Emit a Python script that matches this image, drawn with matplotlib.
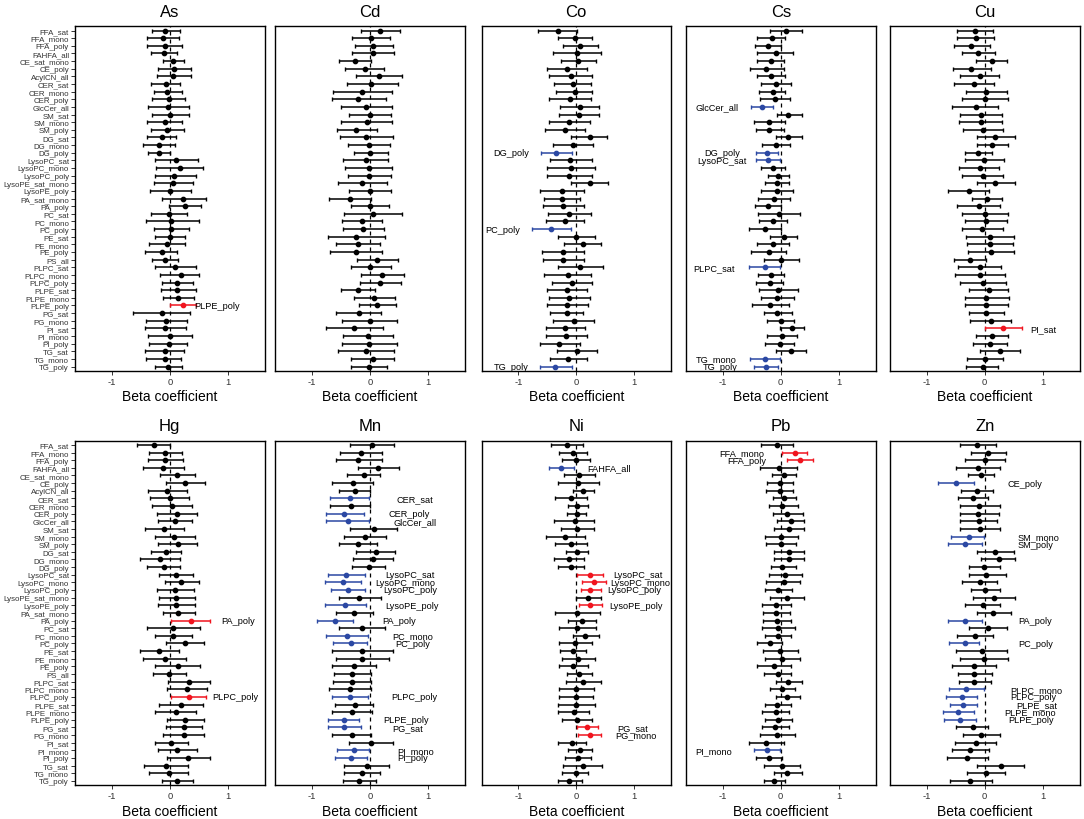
import numpy as np
import matplotlib
matplotlib.use("Agg")
import matplotlib.pyplot as plt

plt.rcParams['font.family'] = ['Liberation Sans', 'DejaVu Sans']
plt.rcParams['axes.unicode_minus'] = False

lipids = ["FFA_sat", "FFA_mono", "FFA_poly", "FAHFA_all", "CE_sat_mono", "CE_poly", "AcylCN_all",
          "CER_sat", "CER_mono", "CER_poly", "GlcCer_all", "SM_sat", "SM_mono", "SM_poly",
          "DG_sat", "DG_mono", "DG_poly", "LysoPC_sat", "LysoPC_mono", "LysoPC_poly",
          "LysoPE_sat_mono", "LysoPE_poly", "PA_sat_mono", "PA_poly", "PC_sat", "PC_mono", "PC_poly",
          "PE_sat", "PE_mono", "PE_poly", "PS_all", "PLPC_sat", "PLPC_mono", "PLPC_poly",
          "PLPE_sat", "PLPE_mono", "PLPE_poly", "PG_sat", "PG_mono", "PI_sat", "PI_mono", "PI_poly",
          "TG_sat", "TG_mono", "TG_poly"]

metals = ["As", "Cd", "Co", "Cs", "Cu", "Hg", "Mn", "Ni", "Pb", "Zn"]

As_est = [-0.075,-0.12,-0.09,-0.10,0.06,0.08,0.06,-0.07,-0.04,-0.02,-0.03,0.0,-0.09,-0.04,-0.14,-0.19,-0.19,0.11,0.17,0.08,0.06,0.01,0.23,0.26,-0.02,0.03,0.03,0.0,-0.05,-0.14,-0.09,0.09,0.19,0.12,0.13,0.14,0.23,-0.13,-0.07,-0.08,0.01,-0.02,-0.09,-0.09,-0.03]
As_lo = [-0.30,-0.39,-0.39,-0.32,-0.11,-0.20,-0.22,-0.32,-0.27,-0.31,-0.38,-0.31,-0.39,-0.33,-0.39,-0.46,-0.38,-0.25,-0.23,-0.26,-0.28,-0.34,-0.14,-0.01,-0.32,-0.41,-0.27,-0.26,-0.36,-0.42,-0.31,-0.26,-0.17,-0.14,-0.15,-0.12,0.01,-0.64,-0.41,-0.43,-0.38,-0.36,-0.42,-0.41,-0.25]
As_hi = [0.17,0.16,0.22,0.13,0.25,0.37,0.37,0.18,0.21,0.27,0.33,0.33,0.22,0.24,0.10,0.09,0.01,0.49,0.58,0.45,0.41,0.37,0.62,0.54,0.30,0.50,0.33,0.27,0.27,0.13,0.14,0.46,0.50,0.41,0.45,0.42,0.45,0.35,0.29,0.28,0.39,0.30,0.25,0.20,0.22]

Cd_est = [0.18,0.02,0.06,0.05,-0.25,-0.09,0.16,0.03,-0.13,-0.20,-0.06,0.0,-0.05,-0.23,-0.06,-0.02,0.01,-0.07,-0.02,-0.01,-0.13,0.0,-0.35,0.0,0.06,-0.14,-0.12,-0.23,-0.21,-0.23,0.13,0.01,0.21,0.18,-0.21,0.07,0.13,-0.18,0.0,-0.27,-0.03,-0.01,-0.06,0.05,-0.02]
Cd_lo = [-0.16,-0.31,-0.26,-0.31,-0.54,-0.43,-0.24,-0.40,-0.64,-0.66,-0.50,-0.36,-0.50,-0.56,-0.52,-0.37,-0.28,-0.47,-0.42,-0.38,-0.55,-0.36,-0.70,-0.32,-0.44,-0.48,-0.47,-0.72,-0.59,-0.69,-0.22,-0.33,-0.16,-0.17,-0.50,-0.28,-0.19,-0.58,-0.48,-0.76,-0.46,-0.48,-0.55,-0.32,-0.33]
Cd_hi = [0.52,0.35,0.40,0.42,0.03,0.25,0.56,0.49,0.38,0.28,0.38,0.37,0.38,0.12,0.40,0.35,0.31,0.31,0.39,0.37,0.30,0.37,0.02,0.34,0.56,0.21,0.25,0.26,0.18,0.22,0.49,0.37,0.59,0.54,0.09,0.43,0.46,0.20,0.47,0.23,0.40,0.48,0.42,0.42,0.30]

Co_est = [-0.32,-0.03,0.07,0.01,0.03,-0.16,-0.09,-0.06,-0.03,-0.11,0.06,0.05,-0.12,-0.20,0.23,-0.06,-0.35,-0.10,-0.09,-0.12,0.23,-0.25,-0.24,-0.23,-0.12,-0.19,-0.43,0.0,0.12,-0.23,-0.23,0.07,-0.15,-0.08,-0.16,-0.12,-0.16,-0.16,-0.04,-0.20,-0.18,-0.29,0.02,-0.14,-0.36]
Co_lo = [-0.66,-0.32,-0.23,-0.40,-0.27,-0.51,-0.47,-0.39,-0.35,-0.47,-0.28,-0.30,-0.47,-0.54,-0.09,-0.40,-0.61,-0.46,-0.50,-0.51,-0.09,-0.62,-0.55,-0.58,-0.49,-0.52,-0.76,-0.31,-0.21,-0.60,-0.58,-0.32,-0.55,-0.42,-0.50,-0.47,-0.50,-0.45,-0.40,-0.52,-0.52,-0.63,-0.33,-0.45,-0.62]
Co_hi = [0.02,0.27,0.38,0.43,0.34,0.19,0.28,0.26,0.27,0.26,0.39,0.40,0.23,0.15,0.54,0.29,-0.07,0.27,0.32,0.27,0.55,0.13,0.07,0.13,0.25,0.13,-0.09,0.32,0.43,0.14,0.13,0.46,0.26,0.28,0.18,0.23,0.20,0.12,0.31,0.15,0.18,0.06,0.36,0.18,-0.08]

Cs_est = [0.09,-0.16,-0.22,-0.09,-0.17,-0.25,-0.17,-0.08,-0.14,-0.10,-0.33,0.13,-0.20,-0.20,0.13,-0.09,-0.23,-0.22,-0.13,-0.04,-0.07,-0.06,-0.12,-0.22,-0.03,-0.14,-0.27,0.05,-0.13,-0.21,0.01,-0.28,-0.17,-0.19,-0.05,-0.06,-0.18,-0.06,0.0,0.20,0.02,-0.02,0.18,-0.27,-0.25]
Cs_lo = [-0.18,-0.41,-0.45,-0.41,-0.41,-0.54,-0.41,-0.34,-0.38,-0.36,-0.52,-0.07,-0.47,-0.42,-0.09,-0.33,-0.42,-0.42,-0.34,-0.22,-0.28,-0.34,-0.39,-0.44,-0.39,-0.37,-0.55,-0.18,-0.41,-0.51,-0.29,-0.55,-0.39,-0.42,-0.37,-0.35,-0.50,-0.29,-0.24,-0.01,-0.24,-0.27,-0.09,-0.54,-0.46]
Cs_hi = [0.36,0.08,0.01,0.22,0.06,0.05,0.08,0.18,0.08,0.16,-0.13,0.36,0.08,0.05,0.36,0.16,-0.05,-0.01,0.08,0.14,0.14,0.22,0.16,0.01,0.34,0.10,0.01,0.28,0.15,0.09,0.32,-0.01,0.06,0.04,0.29,0.23,0.14,0.19,0.23,0.40,0.28,0.23,0.44,-0.01,-0.05]

Cu_est = [-0.17,-0.16,-0.23,-0.11,0.12,-0.23,-0.09,-0.18,0.02,0.01,-0.16,-0.06,-0.07,-0.03,0.18,0.13,-0.11,-0.01,-0.09,-0.03,0.18,-0.28,0.04,-0.10,0.01,0.02,-0.04,0.09,0.09,0.10,-0.26,-0.09,-0.08,-0.03,0.07,0.03,0.03,0.02,0.11,0.31,0.12,0.09,0.26,0.0,-0.03]
Cu_lo = [-0.48,-0.48,-0.54,-0.39,-0.15,-0.55,-0.43,-0.53,-0.33,-0.39,-0.57,-0.42,-0.45,-0.37,-0.14,-0.14,-0.34,-0.34,-0.44,-0.39,-0.14,-0.64,-0.22,-0.48,-0.39,-0.34,-0.40,-0.32,-0.31,-0.29,-0.54,-0.46,-0.51,-0.43,-0.27,-0.35,-0.34,-0.28,-0.25,0.01,-0.16,-0.20,-0.09,-0.31,-0.32]
Cu_hi = [0.14,0.16,0.09,0.18,0.39,0.11,0.25,0.16,0.39,0.41,0.23,0.30,0.30,0.31,0.52,0.41,0.12,0.33,0.24,0.31,0.52,0.07,0.29,0.27,0.41,0.38,0.31,0.51,0.49,0.51,0.02,0.28,0.35,0.36,0.41,0.42,0.41,0.33,0.46,0.64,0.41,0.39,0.61,0.31,0.23]

Hg_est = [-0.28,-0.08,-0.08,-0.11,0.13,0.26,-0.05,0.0,0.04,0.13,0.09,-0.10,0.08,0.14,-0.06,-0.17,-0.10,0.11,0.20,0.09,0.11,0.11,0.14,0.37,0.06,0.05,0.27,-0.18,-0.08,0.14,-0.01,0.34,0.29,0.33,0.20,0.10,0.27,0.24,0.25,0.03,0.13,0.32,-0.06,-0.02,0.13]
Hg_lo = [-0.57,-0.36,-0.37,-0.47,-0.17,-0.07,-0.38,-0.34,-0.30,-0.22,-0.21,-0.43,-0.26,-0.20,-0.33,-0.52,-0.40,-0.19,-0.09,-0.22,-0.19,-0.20,-0.12,0.03,-0.39,-0.25,-0.06,-0.51,-0.46,-0.25,-0.29,-0.03,-0.05,0.02,-0.19,-0.25,-0.05,-0.06,-0.11,-0.26,-0.21,-0.05,-0.45,-0.36,-0.13]
Hg_hi = [0.01,0.21,0.23,0.24,0.44,0.61,0.29,0.34,0.39,0.48,0.39,0.24,0.43,0.48,0.20,0.18,0.18,0.41,0.50,0.42,0.44,0.44,0.43,0.69,0.52,0.39,0.60,0.16,0.28,0.53,0.28,0.70,0.64,0.63,0.57,0.46,0.60,0.55,0.60,0.31,0.47,0.69,0.31,0.31,0.40]

Mn_est = [0.04,-0.16,-0.20,0.15,-0.10,-0.29,-0.26,-0.34,-0.33,-0.44,-0.37,0.07,-0.08,-0.21,0.10,0.05,-0.02,-0.41,-0.47,-0.37,-0.18,-0.43,-0.27,-0.60,-0.13,-0.39,-0.33,-0.13,-0.13,-0.28,-0.30,-0.30,-0.34,-0.34,-0.26,-0.30,-0.45,-0.45,-0.30,0.02,-0.28,-0.33,-0.05,-0.14,-0.18]
Mn_lo = [-0.34,-0.52,-0.59,-0.21,-0.39,-0.65,-0.54,-0.68,-0.68,-0.76,-0.75,-0.35,-0.45,-0.53,-0.23,-0.29,-0.31,-0.72,-0.78,-0.67,-0.53,-0.78,-0.59,-0.91,-0.54,-0.75,-0.63,-0.66,-0.59,-0.65,-0.62,-0.64,-0.71,-0.66,-0.60,-0.66,-0.72,-0.72,-0.65,-0.36,-0.56,-0.60,-0.45,-0.45,-0.46]
Mn_hi = [0.42,0.21,0.22,0.50,0.17,0.06,0.01,-0.01,0.01,-0.10,-0.01,0.47,0.28,0.12,0.43,0.40,0.27,-0.09,-0.16,-0.09,0.20,-0.06,0.05,-0.29,0.27,-0.03,-0.04,0.40,0.33,0.11,0.02,0.03,0.02,-0.03,0.05,0.04,-0.18,-0.16,0.03,0.41,-0.01,-0.05,0.34,0.17,0.10]

Ni_est = [-0.16,-0.05,-0.01,-0.26,0.05,0.03,0.12,-0.09,0.02,0.01,-0.03,0.01,-0.19,-0.09,0.02,-0.13,-0.09,0.24,0.31,0.24,0.20,0.24,0.02,0.10,0.02,0.15,-0.02,-0.05,0.03,-0.05,0.05,0.12,-0.01,-0.01,-0.01,-0.04,0.01,0.19,0.23,-0.08,0.06,0.03,0.11,-0.01,-0.12]
Ni_lo = [-0.43,-0.29,-0.24,-0.47,-0.21,-0.31,-0.06,-0.36,-0.14,-0.16,-0.39,-0.27,-0.52,-0.36,-0.17,-0.39,-0.31,0.01,0.10,0.08,-0.01,0.05,-0.36,-0.14,-0.30,-0.06,-0.29,-0.28,-0.25,-0.30,-0.16,-0.17,-0.29,-0.30,-0.32,-0.31,-0.24,0.01,0.03,-0.31,-0.14,-0.20,-0.23,-0.24,-0.32]
Ni_hi = [0.12,0.19,0.23,-0.04,0.32,0.40,0.30,0.18,0.20,0.17,0.30,0.31,0.16,0.18,0.21,0.14,0.14,0.47,0.51,0.42,0.42,0.44,0.41,0.35,0.35,0.39,0.27,0.17,0.32,0.21,0.28,0.42,0.30,0.29,0.32,0.22,0.27,0.38,0.43,0.17,0.28,0.26,0.45,0.21,0.10]

Pb_est = [-0.07,0.24,0.33,-0.03,0.06,-0.01,-0.01,0.06,0.03,0.11,0.17,0.14,0.01,0.01,0.15,0.14,0.03,0.07,0.05,-0.05,0.10,-0.09,-0.08,-0.06,-0.05,-0.05,-0.19,-0.01,0.03,-0.12,-0.05,0.13,0.03,0.11,-0.06,-0.09,-0.05,-0.10,-0.07,-0.25,-0.24,-0.21,0.02,0.10,-0.11]
Pb_lo = [-0.35,0.02,0.10,-0.36,-0.16,-0.23,-0.25,-0.14,-0.21,-0.14,-0.06,-0.12,-0.28,-0.25,-0.11,-0.12,-0.17,-0.20,-0.25,-0.28,-0.19,-0.33,-0.30,-0.30,-0.32,-0.28,-0.41,-0.31,-0.28,-0.41,-0.29,-0.09,-0.18,-0.09,-0.28,-0.32,-0.28,-0.33,-0.36,-0.55,-0.46,-0.42,-0.29,-0.12,-0.29]
Pb_hi = [0.21,0.45,0.55,0.28,0.27,0.22,0.22,0.27,0.29,0.39,0.41,0.40,0.30,0.26,0.41,0.41,0.26,0.36,0.34,0.20,0.40,0.17,0.16,0.18,0.24,0.18,0.03,0.29,0.34,0.17,0.18,0.36,0.25,0.34,0.17,0.15,0.20,0.14,0.24,0.05,-0.01,0.02,0.33,0.36,0.08]

Zn_est = [-0.13,0.06,0.0,-0.12,-0.06,-0.49,-0.13,-0.21,-0.10,-0.12,-0.10,-0.09,-0.28,-0.34,0.17,0.24,-0.01,0.03,-0.08,0.01,0.16,-0.03,0.14,-0.34,0.05,-0.17,-0.35,-0.05,-0.02,-0.19,-0.18,-0.19,-0.32,-0.39,-0.38,-0.46,-0.43,-0.21,-0.06,-0.16,-0.26,-0.31,0.28,0.02,-0.26]
Zn_lo = [-0.43,-0.24,-0.34,-0.50,-0.29,-0.81,-0.41,-0.47,-0.43,-0.43,-0.43,-0.43,-0.58,-0.63,-0.13,-0.06,-0.28,-0.27,-0.39,-0.24,-0.20,-0.34,-0.14,-0.64,-0.28,-0.48,-0.62,-0.49,-0.42,-0.56,-0.46,-0.45,-0.62,-0.67,-0.61,-0.72,-0.70,-0.49,-0.38,-0.52,-0.57,-0.66,-0.13,-0.30,-0.60]
Zn_hi = [0.19,0.37,0.35,0.27,0.16,-0.19,0.14,0.05,0.27,0.25,0.22,0.27,-0.01,-0.05,0.50,0.53,0.27,0.37,0.22,0.27,0.52,0.27,0.45,-0.04,0.39,0.14,-0.10,0.39,0.40,0.19,0.12,0.10,-0.02,-0.13,-0.13,-0.18,-0.16,0.06,0.27,0.19,0.08,0.05,0.68,0.35,0.12]

# significant (labelled) lipid classes per metal
As_sig = ["PLPE_poly"]
Cd_sig = []
Co_sig = ["DG_poly", "PC_poly", "TG_poly"]
Cs_sig = ["GlcCer_all", "DG_poly", "LysoPC_sat", "PLPC_sat", "TG_mono", "TG_poly"]
Cu_sig = ["PI_sat"]
Hg_sig = ["PA_poly", "PLPC_poly"]
Mn_sig = ["CER_sat", "CER_poly", "GlcCer_all", "LysoPC_sat", "LysoPC_mono", "LysoPC_poly",
          "LysoPE_poly", "PA_poly", "PC_mono", "PC_poly", "PLPC_poly", "PLPE_poly", "PG_sat",
          "PI_mono", "PI_poly"]
Ni_sig = ["FAHFA_all", "LysoPC_sat", "LysoPC_mono", "LysoPC_poly", "LysoPE_poly", "PG_sat", "PG_mono"]
Pb_sig = ["FFA_mono", "FFA_poly", "PI_mono"]
Zn_sig = ["CE_poly", "SM_mono", "SM_poly", "PA_poly", "PC_poly", "PLPC_mono", "PLPC_poly",
          "PLPE_sat", "PLPE_mono", "PLPE_poly"]

data = {
    "As": (As_est, As_lo, As_hi, As_sig), "Cd": (Cd_est, Cd_lo, Cd_hi, Cd_sig),
    "Co": (Co_est, Co_lo, Co_hi, Co_sig), "Cs": (Cs_est, Cs_lo, Cs_hi, Cs_sig),
    "Cu": (Cu_est, Cu_lo, Cu_hi, Cu_sig), "Hg": (Hg_est, Hg_lo, Hg_hi, Hg_sig),
    "Mn": (Mn_est, Mn_lo, Mn_hi, Mn_sig), "Ni": (Ni_est, Ni_lo, Ni_hi, Ni_sig),
    "Pb": (Pb_est, Pb_lo, Pb_hi, Pb_sig), "Zn": (Zn_est, Zn_lo, Zn_hi, Zn_sig),
}

# label placement (x centre in data units, layout only)
label_x = {
    "As": [0.82], "Cd": [],
    "Co": [-1.12, -1.27, -1.12],
    "Cs": [-1.11, -1.01, -1.01, -1.15, -1.12, -1.05],
    "Cu": [1.01], "Hg": [1.19, 1.14],
    "Mn": [0.78, 0.68, 0.78, 0.70, 0.62, 0.70, 0.73, 0.50, 0.75, 0.75, 0.77, 0.62, 0.65, 0.79, 0.74],
    "Ni": [0.57, 1.06, 1.10, 1.00, 1.03, 0.97, 1.03],
    "Pb": [-0.67, -0.59, -1.16],
    "Zn": [0.70, 0.93, 0.88, 0.87, 0.89, 0.89, 0.84, 0.90, 0.78, 0.81],
}

RED = "#f0141e"
BLUE = "#2b48a3"

W, H = 1084, 820
fig = plt.figure(figsize=(W / 100, H / 100), dpi=100)
lefts = [75, 275, 481.5, 686, 890]
tops = [27.3, 441.7]
pw, ph = 189.5, 344.4

ypos = np.arange(len(lipids))

for k, m in enumerate(metals):
    r, c = divmod(k, 5)
    ax = fig.add_axes([lefts[c] / W, 1 - (tops[r] + ph) / H, pw / W, ph / H])
    est, lo, hi, sig = data[m]
    est = np.array(est); lo = np.array(lo); hi = np.array(hi)
    is_sig = np.array([n in sig for n in lipids])
    colors = np.where(~is_sig, "black", np.where(est > 0, RED, BLUE))

    ax.axvline(0, color="black", lw=0.9, ls=(0, (3.2, 3.2)), zorder=1)
    for col in ["black", RED, BLUE]:
        sel = colors == col
        if not sel.any():
            continue
        ax.errorbar(est[sel], ypos[sel], xerr=[est[sel] - lo[sel], hi[sel] - est[sel]],
                    fmt="o", color=col, ms=3.1, elinewidth=1.1, capsize=1.3, capthick=1.0,
                    zorder=3)
    for name, xc in zip(sig, label_x[m]):
        ax.text(xc, lipids.index(name), name, ha="center", va="center", fontsize=6.6,
                color="black", zorder=4)

    ax.set_xlim(-1.64, 1.64)
    ax.set_ylim(len(lipids) - 0.45, -0.55)
    ax.set_xticks([-1, 0, 1])
    ax.set_xticklabels(["-1", "0", "1"], fontsize=6.8, color="#333333")
    if c == 0:
        ax.set_yticks(ypos)
        ax.set_yticklabels(lipids, fontsize=5.7, color="#333333")
    else:
        ax.set_yticks([])
    ax.tick_params(direction="out", length=2.8, width=0.7, pad=1.5, color="#333333")
    for s in ax.spines.values():
        s.set_linewidth(1.0)
        s.set_color("black")
    ax.set_title(m, fontsize=12, pad=7.5)
    ax.set_xlabel("Beta coefficient", fontsize=10, labelpad=2.5)

fig.savefig("out.png", dpi=100)
